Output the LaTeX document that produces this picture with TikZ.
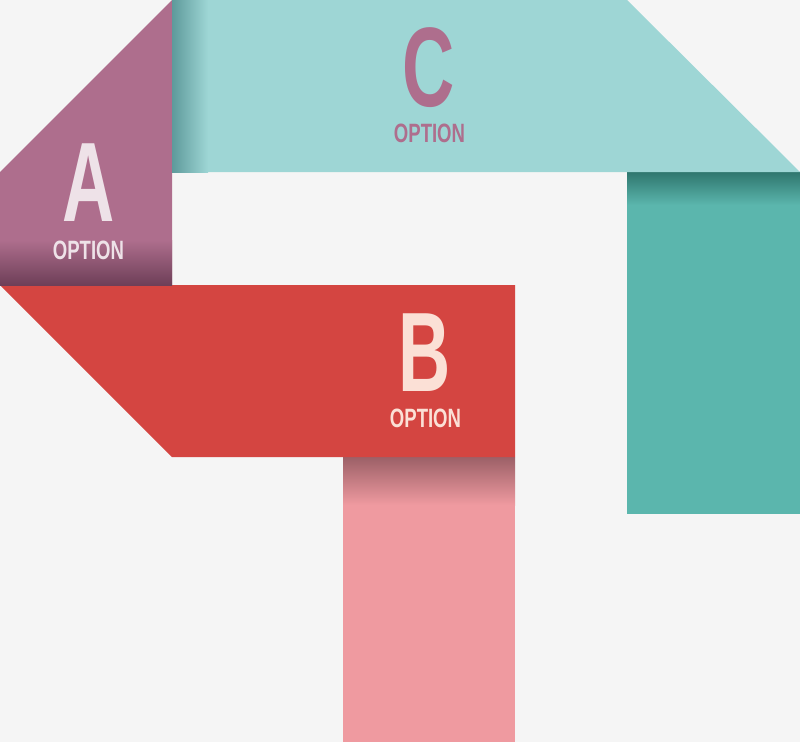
\documentclass[tikz,border=0pt]{standalone}
\usepackage{fontspec}
\newfontfamily\bigletters[FakeStretch=0.64]{Liberation Sans}
\newfontfamily\optfont[FakeStretch=0.70]{Liberation Sans}
\definecolor{bgc}{HTML}{F5F5F5}
\definecolor{purp}{HTML}{AE6E8D}
\definecolor{purpdark}{HTML}{6E3F58}
\definecolor{tealL}{HTML}{9ED6D5}
\definecolor{tealLdark}{HTML}{5E9A9B}
\definecolor{tealD}{HTML}{5BB6AD}
\definecolor{tealDdark}{HTML}{2F766E}
\definecolor{redc}{HTML}{D44541}
\definecolor{pinkc}{HTML}{EF9AA0}
\definecolor{pinkdark}{HTML}{9C6067}
\definecolor{letA}{HTML}{EEE2E8}
\definecolor{letB}{HTML}{FBE0D6}
\tikzset{
  big/.style={inner sep=0pt, font=\bigletters\bfseries\fontsize{113}{113}\selectfont},
  opt/.style={inner sep=0pt, font=\optfont\bfseries\fontsize{26.5}{26.5}\selectfont},
}
\begin{document}
\begin{tikzpicture}[x=1pt,y=-1pt]
\fill[bgc] (0,0) rectangle (800,742);
\useasboundingbox (0,0) rectangle (800,742);
% pink vertical strip
\fill[pinkc] (343,457) rectangle (515,742);
\shade[top color=pinkdark, bottom color=pinkc] (343,457) rectangle (515,505);
% dark teal vertical strip
\fill[tealD] (627,172) rectangle (800,514);
\shade[top color=tealDdark, bottom color=tealD] (627,172) rectangle (800,205);
% red band B
\fill[redc] (0,285) -- (515,285) -- (515,457) -- (172,457) -- cycle;
% purple A
\fill[purp] (172,0) -- (172,285) -- (0,285) -- (0,172) -- cycle;
\shade[top color=purp, bottom color=purpdark] (0,240) rectangle (172,285);
% light teal C
\fill[tealL] (172,0) -- (627,0) -- (800,172) -- (172,172) -- cycle;
\shade[left color=tealLdark, right color=tealL] (172,0) rectangle (208,172);
% texts
\node[big, text=letA] (la) at (88.5,183) {A};
\node[opt, text=letA] (oa) at (88.5,250) {OPTION};
\node[big, text=purp] (lc) at (428.5,67.5) {C};
\node[opt, text=purp] (oc) at (429.5,133.5) {OPTION};
\node[big, text=letB] (lb) at (424.5,352.5) {B};
\node[opt, text=letB] (ob) at (425.5,418) {OPTION};
\end{tikzpicture}
\end{document}
